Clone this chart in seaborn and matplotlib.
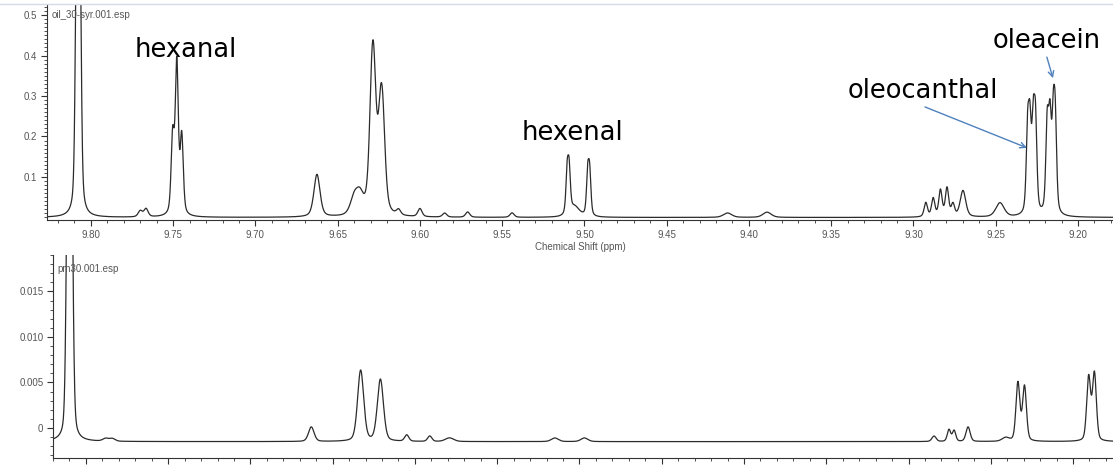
import numpy as np
import pandas as pd
import seaborn as sns
import matplotlib.pyplot as plt
from matplotlib.ticker import MultipleLocator
from matplotlib.lines import Line2D

# top spectrum (oil_30-syr.001.esp): peak centre (ppm), height, half width (ppm)
top_ppm = [9.8086, 9.8068, 9.7700, 9.7665,
           9.7503, 9.7478, 9.7448,
           9.6626, 9.6400, 9.6365,
           9.6292, 9.6280, 9.6240, 9.6226,
           9.6130, 9.6000, 9.5850, 9.5710, 9.5440,
           9.5105, 9.5093, 9.5060, 9.4980, 9.4968,
           9.4130, 9.3890,
           9.2925, 9.2880, 9.2836, 9.2796, 9.2760, 9.2699, 9.2474,
           9.2306, 9.2292, 9.2272, 9.2258,
           9.2187, 9.2170, 9.2150, 9.2138]
top_height = [0.70, 0.70, 0.015, 0.02,
              0.19, 0.37, 0.19,
              0.105, 0.04, 0.045,
              0.225, 0.225, 0.17, 0.17,
              0.013, 0.02, 0.01, 0.013, 0.011,
              0.10, 0.10, 0.025, 0.10, 0.10,
              0.011, 0.013,
              0.035, 0.045, 0.065, 0.07, 0.03, 0.065, 0.035,
              0.195, 0.195, 0.20, 0.21,
              0.215, 0.215, 0.20, 0.205]
top_width = [0.0010, 0.0010, 0.0015, 0.0015,
             0.0011, 0.0011, 0.0011,
             0.0022, 0.0028, 0.0028,
             0.0019, 0.0019, 0.0019, 0.0019,
             0.0015, 0.0015, 0.0015, 0.0015, 0.0015,
             0.0009, 0.0009, 0.0035, 0.0009, 0.0009,
             0.0030, 0.0030,
             0.0012, 0.0012, 0.0012, 0.0012, 0.0012, 0.0020, 0.0030,
             0.0010, 0.0010, 0.0010, 0.0010,
             0.0010, 0.0010, 0.0010, 0.0010]

# bottom spectrum (pm30.001.esp)
bot_ppm = [9.8108, 9.8090, 9.7880, 9.7840,
           9.6630, 9.6330, 9.6210,
           9.6050, 9.5910, 9.5790, 9.5150, 9.4970,
           9.2845, 9.2754, 9.2723, 9.2638, 9.2410,
           9.2335, 9.2295, 9.1905, 9.1870]
bot_height = [0.035, 0.035, 0.0003, 0.0003,
              0.0016, 0.0078, 0.0068,
              0.0007, 0.0006, 0.0004, 0.0004, 0.0004,
              0.0006, 0.0013, 0.0012, 0.0016, 0.0004,
              0.0064, 0.0060, 0.0070, 0.0074]
bot_width = [0.0012, 0.0012, 0.0020, 0.0020,
             0.0020, 0.0022, 0.0022,
             0.0015, 0.0015, 0.0030, 0.0025, 0.0025,
             0.0015, 0.0012, 0.0012, 0.0015, 0.0025,
             0.0014, 0.0014, 0.0014, 0.0014]
bot_baseline = -0.0015

shift_ticks = [9.80, 9.75, 9.70, 9.65, 9.60, 9.55, 9.50,
               9.45, 9.40, 9.35, 9.30, 9.25, 9.20]
top_ticks = [0.1, 0.2, 0.3, 0.4, 0.5]
bot_ticks = [0, 0.005, 0.010, 0.015]
bot_ticklabels = ['0', '0.005', '0.010', '0.015']


def spectrum(ppm, centres, heights, widths, base=0.0, eta=0.45):
    # pseudo-Voigt line shapes
    y = np.full_like(ppm, base)
    for c, h, w in zip(centres, heights, widths):
        d2 = (ppm - c)**2
        y += h * (eta * w**2 / (d2 + w**2) + (1 - eta) * np.exp(-np.log(2) * d2 / w**2))
    return y


ppm = np.linspace(9.835, 9.17, 7000)
top_df = pd.DataFrame({'ppm': ppm, 'intensity': spectrum(ppm, top_ppm, top_height, top_width)})
bot_df = pd.DataFrame({'ppm': ppm, 'intensity': spectrum(ppm, bot_ppm, bot_height, bot_width, bot_baseline, eta=0.3)})

sns.set_style('ticks')
plt.rcParams['font.family'] = ['Liberation Sans', 'DejaVu Sans']

fig = plt.figure(figsize=(11.13, 4.66), dpi=100)
W, H = 1113, 466
ax1 = fig.add_axes([47 / W, 1 - 220 / H, 1066 / W, 215 / H])
ax2 = fig.add_axes([53 / W, 1 - 458 / H, 1060 / W, 203 / H])

gray = '#555555'
for ax, df in [(ax1, top_df), (ax2, bot_df)]:
    sns.lineplot(data=df, x='ppm', y='intensity', ax=ax, color='#2b2b2b',
                 lw=0.9, estimator=None, sort=False)
    ax.set_xticks(shift_ticks)
    ax.set_xticklabels([f'{t:.2f}' for t in shift_ticks])
    ax.xaxis.set_minor_locator(MultipleLocator(0.01))
    ax.tick_params(axis='both', which='major', labelsize=7, colors='#333333',
                   labelcolor=gray, length=4, width=0.8, direction='out', pad=3)
    ax.tick_params(axis='both', which='minor', length=2, width=0.6, colors='#333333')
    ax.set_ylabel('')
    ax.set_xlabel('')
    for s in ['top', 'right']:
        ax.spines[s].set_visible(False)
    for s in ['left', 'bottom']:
        ax.spines[s].set_linewidth(0.8)
        ax.spines[s].set_color('#333333')

ax1.set_xlim(9.8267, 9.1787)
ax1.set_ylim(-0.0062, 0.5247)
ax1.set_yticks(top_ticks)
ax1.set_yticklabels([f'{t:.1f}' for t in top_ticks])
ax1.yaxis.set_minor_locator(MultipleLocator(0.01))
ax1.set_xlabel('Chemical Shift (ppm)', fontsize=7, color=gray, labelpad=2)
ax1.text(5 / 1066, 0.955, 'oil_30-syr.001.esp', transform=ax1.transAxes,
         fontsize=7, color=gray, va='center')

ax2.set_xlim(9.8200, 9.1757)
ax2.set_ylim(-0.0033, 0.0190)
ax2.set_yticks(bot_ticks)
ax2.set_yticklabels(bot_ticklabels)
ax2.yaxis.set_minor_locator(MultipleLocator(0.001))
ax2.text(4 / 1060, 0.93, 'pm30.001.esp', transform=ax2.transAxes,
         fontsize=7, color=gray, va='center')

# compound labels and arrows
lab = dict(fontsize=18.5, color='black', family='DejaVu Sans', va='baseline', ha='left')
ax1.text(9.7733, 0.396, 'hexanal', **lab)
ax1.text(9.5380, 0.191, 'hexenal', **lab)
ax1.text(9.3398, 0.295, 'oleocanthal', **lab)
ax1.text(9.2517, 0.4185, 'oleacein', **lab)
arrow = dict(arrowstyle='->', color='#4f81bd', lw=1.0, shrinkA=0, shrinkB=0)
ax1.annotate('', xy=(9.2310, 0.172), xytext=(9.2930, 0.273), arrowprops=arrow)
ax1.annotate('', xy=(9.2152, 0.344), xytext=(9.2189, 0.396), arrowprops=arrow)

fig.add_artist(Line2D([0, 1], [1 - 3.5 / H, 1 - 3.5 / H], color='#d5dae6', lw=1))

fig.savefig('out.png', dpi=100)
